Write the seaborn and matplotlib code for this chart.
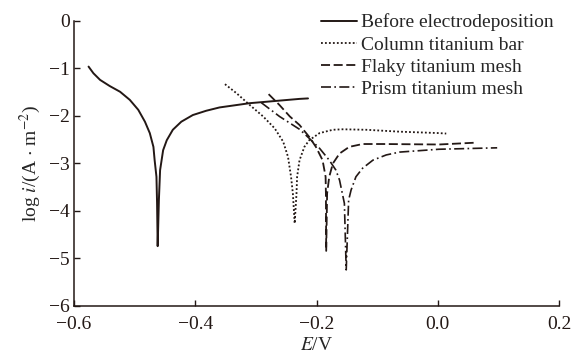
import pandas as pd
import seaborn as sns
import matplotlib.pyplot as plt

# polarization curves (E in V, log i)
before_E = [-0.576, -0.568, -0.557, -0.541, -0.524, -0.508, -0.494, -0.483,
            -0.475, -0.469, -0.467, -0.464, -0.463, -0.462,
            -0.460, -0.458, -0.453, -0.447, -0.437, -0.423, -0.404,
            -0.382, -0.360, -0.310, -0.228, -0.214]
before_logi = [-0.96, -1.10, -1.24, -1.37, -1.49, -1.66, -1.87, -2.12,
               -2.36, -2.65, -2.93, -3.28, -3.83, -4.74,
               -3.77, -3.14, -2.72, -2.51, -2.29, -2.12, -1.98,
               -1.89, -1.82, -1.73, -1.64, -1.63]

column_E = [-0.351, -0.332, -0.310, -0.288, -0.269, -0.255, -0.247, -0.242,
            -0.239, -0.236, -0.233, -0.232, -0.228, -0.220, -0.212, -0.195,
            -0.173, -0.157, -0.118, -0.063, 0.002, 0.014]
column_logi = [-1.33, -1.52, -1.77, -2.01, -2.26, -2.54, -2.86, -3.28,
               -3.63, -4.26, -3.63, -3.28, -2.93, -2.65, -2.51, -2.36,
               -2.29, -2.28, -2.29, -2.33, -2.36, -2.37]

flaky_E = [-0.279, -0.261, -0.244, -0.228, -0.212, -0.201, -0.190, -0.185,
           -0.1845, -0.184, -0.1825, -0.179, -0.173, -0.162, -0.146, -0.124,
           -0.091, 0.002, 0.065]
flaky_logi = [-1.54, -1.77, -2.01, -2.19, -2.44, -2.65, -2.93, -3.28,
              -3.63, -4.84, -3.63, -3.28, -3.00, -2.79, -2.65, -2.59,
              -2.59, -2.60, -2.56]

prism_E = [-0.291, -0.261, -0.228, -0.212, -0.195, -0.179, -0.168, -0.162,
           -0.154, -0.151, -0.1485, -0.147, -0.143, -0.135, -0.124, -0.107,
           -0.085, -0.063, 0.002, 0.098]
prism_logi = [-1.72, -2.01, -2.28, -2.47, -2.68, -2.93, -3.14, -3.35,
              -3.84, -5.24, -4.33, -3.77, -3.56, -3.28, -3.10, -2.93,
              -2.82, -2.76, -2.70, -2.67]

labels = ["Before electrodeposition", "Column titanium bar",
          "Flaky titanium mesh", "Prism titanium mesh"]

sns.set_style("ticks")
plt.rcParams["font.family"] = ["Liberation Serif", "DejaVu Serif"]
plt.rcParams["mathtext.fontset"] = "stix"
plt.rcParams["font.size"] = 14

ink = "#231815"
fig = plt.figure(figsize=(5.8, 3.54), dpi=100)
ax = fig.add_axes([0.1276, 0.1356, 0.8362, 0.8051])

series = [(before_E, before_logi, "-", 1.4),
          (column_E, column_logi, (0, (1, 1.2)), 1.3),
          (flaky_E, flaky_logi, (0, (5, 2)), 1.3),
          (prism_E, prism_logi, (0, (6, 2, 1, 2)), 1.2)]
for (e, li, ls, lw), lab in zip(series, labels):
    df = pd.DataFrame({"E": e, "logi": li})
    sns.lineplot(data=df, x="E", y="logi", ax=ax, color=ink,
                 linestyle=ls, linewidth=lw, label=lab, sort=False)

ax.set_xlim(-0.6, 0.2)
ax.set_ylim(-6, 0)
ax.set_xticks([-0.6, -0.4, -0.2, 0.0, 0.2])
ax.set_xticklabels(["\u22120.6", "\u22120.4", "\u22120.2", "0.0", "0.2"])
ax.set_yticks(range(-6, 1))
ax.set_yticklabels(["\u2212%d" % -v if v < 0 else "0" for v in range(-6, 1)])
ax.tick_params(direction="in", length=4, width=1, colors=ink, labelsize=14)
ax.tick_params(axis="x", pad=7)
ax.tick_params(axis="y", pad=3)
for s in ["top", "right"]:
    ax.spines[s].set_visible(False)
for s in ["left", "bottom"]:
    ax.spines[s].set_color(ink)
    ax.spines[s].set_linewidth(1.1)

ax.set_xlabel("$E$/V", fontsize=14, labelpad=3)
ax.set_ylabel(r"log $i$/(A $\cdot$ m$^{-2}$)", fontsize=14, labelpad=4)

ax.legend(loc="upper left", bbox_to_anchor=(0.553, 0.962), bbox_transform=fig.transFigure,
          frameon=False, handlelength=1.85, handletextpad=0.2, labelspacing=0.24,
          borderpad=0, borderaxespad=0, fontsize=14)

fig.savefig("out.png", dpi=100)
